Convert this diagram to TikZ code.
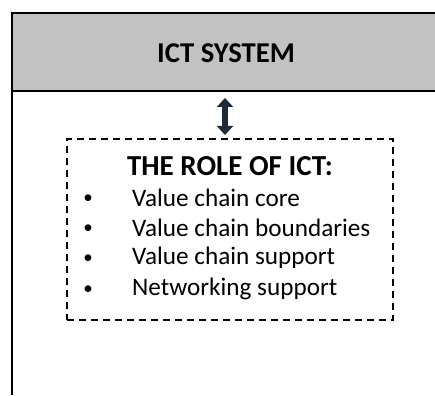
\documentclass[tikz,border=0pt]{standalone}
\usepackage{fontspec}
\setmainfont{Carlito}
\usetikzlibrary{arrows.meta}
\definecolor{boxgray}{HTML}{C2C2C2}
\definecolor{arrowdark}{HTML}{1E2B38}
\tikzset{
  headtext/.style={font=\bfseries\fontsize{28.7}{32}\selectfont, inner sep=0pt},
  titletext/.style={font=\bfseries\fontsize{29}{32}\selectfont, inner sep=0pt},
  itemtext/.style={font=\fontsize{25.2}{28}\selectfont, inner sep=0pt, anchor=west},
  bullettext/.style={font=\fontsize{19}{22}\selectfont, inner sep=0pt},
  dashbox/.style={draw, line width=1.8pt, dash pattern=on 7pt off 5pt},
}
\begin{document}
\begin{tikzpicture}[x=1pt,y=-1pt]
\useasboundingbox (0,0) rectangle (435,395);
% gray header
\fill[boxgray] (12,13) rectangle (436,91);
\draw[line width=1.6pt] (12,395) -- (12,13) -- (436,13);
\draw[line width=1.6pt] (12,91) -- (436,91);
\node[headtext] (head) at (226,53) {ICT SYSTEM};
% dashed box
\node[dashbox, minimum width=326pt, minimum height=181pt, inner sep=0pt] (role) at (230,229.5) {};
\coordinate (atop) at (225,98);
\coordinate (abot) at (225,135);
\draw[arrowdark, line width=5.5pt, {Triangle[width=16pt,length=9pt]}-{Triangle[width=16pt,length=9pt]}] (atop) -- (abot);
\node[titletext] (title) at (230,166) {THE ROLE OF ICT:};
\node[bullettext] (b1) at (88,199) {•};
\node[bullettext] (b2) at (88,229) {•};
\node[bullettext] (b3) at (88,259) {•};
\node[bullettext] (b4) at (88,290) {•};
\node[itemtext] (i1) at (132,198) {Value chain core};
\node[itemtext] (i2) at (132,228) {Value chain boundaries};
\node[itemtext] (i3) at (132,258) {Value chain support};
\node[itemtext] (i4) at (132,289) {Networking support};
\end{tikzpicture}
\end{document}
